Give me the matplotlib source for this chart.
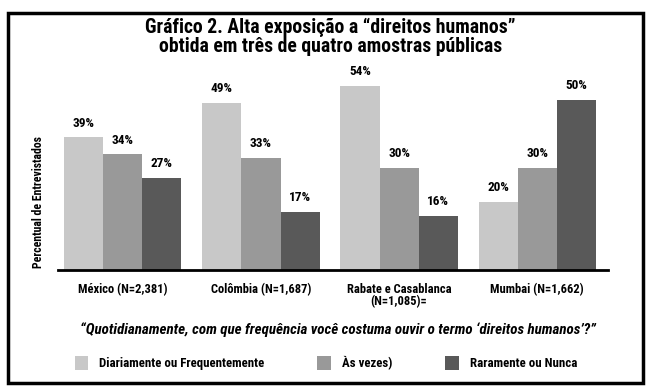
import numpy as np
import matplotlib
matplotlib.use("Agg")
import matplotlib.pyplot as plt
from matplotlib.patches import Rectangle, Patch

plt.rcParams['font.family'] = ['Roboto Condensed', 'DejaVu Sans']
plt.rcParams['font.weight'] = 'bold'

# data
groups = ["México (N=2,381)", "Colômbia (N=1,687)",
          "Rabate e Casablanca\n(N=1,085)=", "Mumbai (N=1,662)"]
series_names = ["Diariamente ou Frequentemente", "Às vezes)", "Raramente ou Nunca"]
frequente = [39, 49, 54, 20]
as_vezes = [34, 33, 30, 30]
raramente = [27, 17, 16, 50]
colors = ["#c8c8c8", "#999999", "#595959"]

fig = plt.figure(figsize=(6.5, 3.92), dpi=100)
ax = fig.add_axes([0.089, 0.311, 0.846, 0.521])

x = np.arange(len(groups))
w = 0.283
for i, (vals, name) in enumerate(zip([frequente, as_vezes, raramente], series_names)):
    pos = x + (i - 1) * w
    ax.bar(pos, vals, width=w, color=colors[i], label=name)
    for p, v in zip(pos, vals):
        ax.text(p, v + 2.3, f"{v}%", ha="center", va="bottom", fontsize=9.5,
                fontweight="bold")

ax.set_xlim(-0.47, 3.51)
ax.set_ylim(0, 60)
for s in ["top", "right", "left"]:
    ax.spines[s].set_visible(False)
ax.spines["bottom"].set_linewidth(2)
ax.set_yticks([])
ax.set_xticks(x)
ax.set_xticklabels(groups, fontsize=9, fontweight="bold")
ax.tick_params(axis="x", length=0, pad=9)
for lbl in ax.get_xticklabels():
    lbl.set_linespacing(0.95)

fig.text(0.059, 0.485, "Percentual de Entrevistados", rotation=90,
         ha="center", va="center", fontsize=8.5, fontweight="bold")

fig.text(0.508, 0.905, "Gráfico 2. Alta exposição a “direitos humanos”\nobtida em três de quatro amostras públicas",
         ha="center", va="center", fontsize=14.2, fontweight="bold", linespacing=1.0)

fig.text(0.52, 0.158, "“Quotidianamente, com que frequência você costuma ouvir o termo ‘direitos humanos’?”",
         ha="center", va="center", fontsize=10.8, fontweight="bold", style="italic")

handles = [Patch(facecolor=c, edgecolor="none") for c in colors]
fig.legend(handles, series_names, loc="center left", bbox_to_anchor=(0.097, 0.074),
           ncol=3, frameon=False, fontsize=9.3, handlelength=1.05, handleheight=1.3,
           columnspacing=4.1, handletextpad=0.85)

fig.patches.append(Rectangle((0.013, 0.023), 0.976, 0.944, transform=fig.transFigure,
                             fill=False, edgecolor="black", linewidth=2.5))

fig.savefig("out.png", dpi=100)
